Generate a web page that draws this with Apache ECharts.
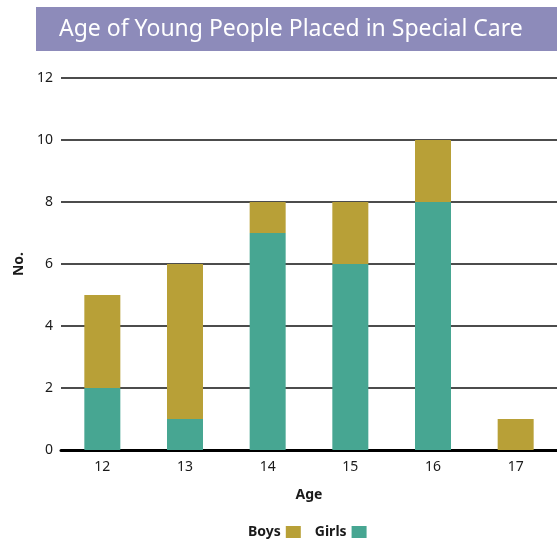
<!DOCTYPE html>
<html>
<head>
<meta charset="utf-8">
<script src="https://cdn.jsdelivr.net/npm/echarts@6/dist/echarts.min.js"></script>
<style>
  html, body { margin: 0; padding: 0; background: #fff; }
  #chart { width: 557px; height: 539px; }
</style>
</head>
<body>
<div id="chart"></div>
<script>
// Ages of young people placed in special care, split by gender
const ages = ['12', '13', '14', '15', '16', '17'];
const girls = [2, 1, 7, 6, 8, 0];
const boys = [3, 5, 1, 2, 2, 1];
const yTicks = [0, 2, 4, 6, 8, 10, 12];

const FONT = '"Noto Sans", "Open Sans", sans-serif';
const chart = echarts.init(document.getElementById('chart'));

chart.setOption({
  animation: false,
  textStyle: { fontFamily: FONT },
  graphic: [
    {
      type: 'rect',
      shape: { x: 36, y: 7, width: 521, height: 44 },
      style: { fill: '#8d8bba' },
      silent: true
    },
    {
      type: 'text',
      x: 59, y: 29,
      style: {
        text: 'Age of Young People Placed in Special Care',
        fill: '#ffffff',
        font: '23px ' + FONT,
        verticalAlign: 'middle'
      }
    }
  ],
  legend: {
    left: 243,
    top: 520,
    align: 'right',
    itemWidth: 15,
    itemHeight: 12,
    itemGap: 14,
    icon: 'rect',
    data: ['Boys', 'Girls'],
    textStyle: { fontWeight: 'bold', fontSize: 14, color: '#1a1a1a', fontFamily: FONT }
  },
  // plot area runs past the right edge so the last category keeps its full band
  grid: { left: 61, top: 78, width: 499, height: 372 },
  xAxis: {
    type: 'category',
    data: ages,
    name: 'Age',
    nameLocation: 'middle',
    nameGap: 38,
    nameTextStyle: { fontWeight: 'bold', fontSize: 14, color: '#1a1a1a' },
    axisLine: { lineStyle: { color: '#000', width: 3 } },
    axisTick: { show: false },
    axisLabel: { fontSize: 14, color: '#1a1a1a', margin: 10 }
  },
  yAxis: {
    type: 'value',
    min: yTicks[0],
    max: yTicks[yTicks.length - 1],
    interval: 2,
    name: 'No.',
    nameLocation: 'middle',
    nameGap: 34,
    nameTextStyle: { fontWeight: 'bold', fontSize: 14, color: '#1a1a1a' },
    axisLine: { show: false },
    axisTick: { show: false },
    axisLabel: { fontSize: 14, color: '#1a1a1a', margin: 8 },
    splitLine: { lineStyle: { color: '#111', width: 1.5 } }
  },
  series: [
    {
      name: 'Girls',
      type: 'bar',
      stack: 'total',
      data: girls,
      barWidth: 36,
      itemStyle: { color: '#47a692' }
    },
    {
      name: 'Boys',
      type: 'bar',
      stack: 'total',
      data: boys,
      barWidth: 36,
      itemStyle: { color: '#b8a037' }
    }
  ]
});
</script>
</body>
</html>
